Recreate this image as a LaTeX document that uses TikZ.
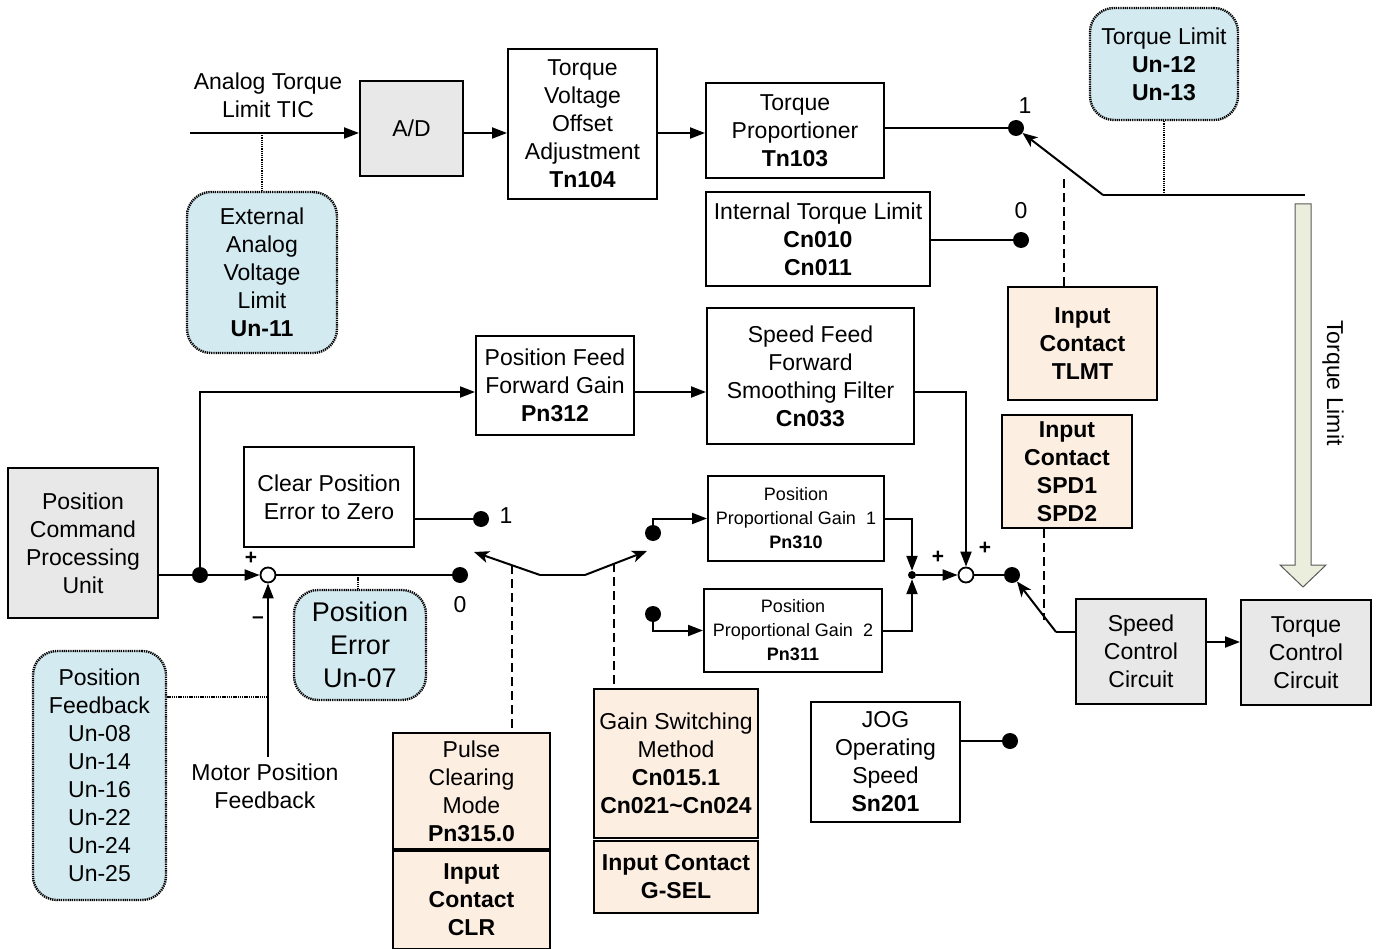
\documentclass[tikz,border=0pt]{standalone}
\usepackage{fontspec}
\setmainfont{Liberation Sans}
\usetikzlibrary{arrows.meta}
\definecolor{boxgray}{HTML}{E8E8E8}
\definecolor{monblue}{HTML}{D3EAF0}
\definecolor{peach}{HTML}{FDEEE2}
\definecolor{limgreen}{HTML}{EBEEDC}
\tikzset{
  every node/.style={font=\fontsize{23}{28}\selectfont, inner sep=0pt},
  box/.style={draw, line width=2pt, align=center},
  graybox/.style={box, fill=boxgray},
  monbox/.style={draw, line width=2.4pt, dash pattern=on 1.3pt off 0.9pt, fill=monblue, rounded corners=24pt, align=center},
  inbox/.style={box, fill=peach, font=\fontsize{23}{28}\selectfont\bfseries},
  smallbox/.style={box, font=\fontsize{18}{24}\selectfont},
  dot/.style={circle, fill=black, minimum size=16pt},
  jdotst/.style={circle, fill=black, minimum size=8pt},
  sumc/.style={circle, draw, fill=white, line width=1.8pt, minimum size=15pt},
  wire/.style={line width=2pt},
  arr/.style={wire, -{Triangle[length=15pt,width=11pt]}},
  swarr/.style={wire, -{Stealth[length=15pt,width=12pt,inset=4pt]}},
  ctrlwire/.style={line width=2.2pt, dash pattern=on 9pt off 5pt},
  monwire/.style={line width=2.4pt, dash pattern=on 1.3pt off 0.9pt},
  sign/.style={font=\fontsize{21}{24}\selectfont\bfseries},
}
\begin{document}
\begin{tikzpicture}[x=1pt,y=-1pt]
\useasboundingbox (0,0) rectangle (1378,949);

% ---------- torque limit path ----------
\node[align=center] (tic) at (268,95) {Analog Torque\\Limit TIC};
\node[graybox, minimum width=103pt, minimum height=95pt] (ad) at (411.5,128.5) {A/D};
\node[box, minimum width=149pt, minimum height=150pt] (tvoa) at (582.5,124) {Torque\\Voltage\\Offset\\Adjustment\\\textbf{Tn104}};
\node[box, minimum width=178pt, minimum height=95pt] (tp) at (795,130.5) {Torque\\Proportioner\\\textbf{Tn103}};
\node[box, minimum width=224pt, minimum height=94pt] (itl) at (818,239) {Internal Torque Limit\\\textbf{Cn010}\\\textbf{Cn011}};
\node[monbox, minimum width=150pt, minimum height=161pt] (ext) at (262,272.5) {External\\Analog\\Voltage\\Limit\\\textbf{Un-11}};
\node[monbox, minimum width=148pt, minimum height=112pt] (tl) at (1164,64) {Torque Limit\\\textbf{Un-12}\\\textbf{Un-13}};
\node[inbox, minimum width=149pt, minimum height=113pt] (tlmt) at (1082.5,343.5) {Input\\Contact\\TLMT};
\node[dot] (t1) at (1016,128) {};
\node[dot] (t0) at (1021,240) {};
\node (t1lab) at (1025,106) {1};
\node (t0lab) at (1021,211) {0};

\coordinate (ticin) at (190,133);
\coordinate (exttap) at (262,133);
\coordinate (tpiv) at (1103,195);
\coordinate (tend) at (1305,195);
\coordinate (tlmtup) at (1064,175);

\draw[arr] (ticin) -- (ticin -| ad.west);
\draw[monwire] (exttap) -- (ext.north);
\draw[arr] (ad.east |- ticin) -- (tvoa.west |- ticin);
\draw[arr] (tvoa.east |- ticin) -- (tp.west |- ticin);
\draw[wire] (tp.east |- t1) -- (t1);
\draw[wire] (itl.east |- t0) -- (t0);
\draw[swarr] (tpiv) -- (t1);
\draw[wire] (tpiv) -- (tend);
\draw[monwire] (tl.south) -- (tl.south |- tpiv);
\draw[ctrlwire] (tlmtup |- tlmt.north) -- (tlmtup);

% wide torque limit arrow
\draw[fill=limgreen, draw=black!65, line width=1pt]
  (1295,204) -- (1311,204) -- (1311,565) -- (1326,565) -- (1303,587) -- (1280,565) -- (1295,565) -- cycle;
\node[rotate=-90] (tllab) at (1333,383) {Torque Limit};

% ---------- position loop ----------
\node[graybox, minimum width=150pt, minimum height=150pt] (pcpu) at (83,543) {Position\\Command\\Processing\\Unit};
\node[box, minimum width=158pt, minimum height=99pt] (pffg) at (555,385.5) {Position Feed\\Forward Gain\\\textbf{Pn312}};
\node[box, minimum width=207pt, minimum height=136pt] (sff) at (810.5,376) {Speed Feed\\Forward\\Smoothing Filter\\\textbf{Cn033}};
\node[box, minimum width=170pt, minimum height=100pt] (cpe) at (329,497) {Clear Position\\Error to Zero};
\node[monbox, minimum width=132pt, minimum height=110pt, font=\fontsize{27}{33}\selectfont] (perr) at (360,645) {Position\\Error\\Un-07};
\node[monbox, minimum width=133pt, minimum height=249pt] (pfb) at (99.5,775.5) {Position\\Feedback\\Un-08\\Un-14\\Un-16\\Un-22\\Un-24\\Un-25};
\node[align=center] (mpf) at (265,786) {Motor Position\\Feedback};
\node[smallbox, minimum width=176pt, minimum height=85pt] (ppg1) at (796,518.5) {Position\\Proportional Gain~~1\\\textbf{Pn310}};
\node[smallbox, minimum width=178pt, minimum height=83pt] (ppg2) at (793,630.5) {Position\\Proportional Gain~~2\\\textbf{Pn311}};
\node[inbox, minimum width=130pt, minimum height=113pt] (spd) at (1067,471.5) {Input\\Contact\\SPD1\\SPD2};
\node[graybox, minimum width=130pt, minimum height=105pt] (scc) at (1141,651.5) {Speed\\Control\\Circuit};
\node[graybox, minimum width=130pt, minimum height=105pt] (tcc) at (1306,652.5) {Torque\\Control\\Circuit};
\node[box, minimum width=149pt, minimum height=120pt] (jog) at (885.5,762) {JOG\\Operating\\Speed\\\textbf{Sn201}};
\node[inbox, font=\fontsize{23}{28}\selectfont, minimum width=157pt, minimum height=116pt] (pcm) at (471.5,791) {Pulse\\Clearing\\Mode\\\textbf{Pn315.0}};
\node[inbox, minimum width=157pt, minimum height=98pt] (clr) at (471.5,900) {Input\\Contact\\CLR};
\node[inbox, font=\fontsize{23}{28}\selectfont, minimum width=164pt, minimum height=149pt] (gsm) at (676,763.5) {Gain Switching\\Method\\\textbf{Cn015.1}\\\textbf{Cn021\textasciitilde Cn024}};
\node[inbox, minimum width=164pt, minimum height=72pt] (gsel) at (676,877) {Input Contact\\G-SEL};

\node[dot] (jp) at (200,575) {};
\node[sumc] (sum1) at (268,575) {};
\node[dot] (c1) at (481,519) {};
\node[dot] (c0) at (460,575) {};
\node[dot] (g1) at (653,533) {};
\node[dot] (g2) at (653,614) {};
\node[jdotst] (jn) at (912,575) {};
\node[sumc] (sum2) at (966,575) {};
\node[dot] (sdot) at (1012,575) {};
\node[dot] (jd) at (1010,741) {};

\node (c1lab) at (506,516) {1};
\node (c0lab) at (460,605) {0};
\node[sign] (p1) at (251,558) {+};
\node[sign] (m1) at (258,620) {--};
\node[sign] (p2) at (938,557) {+};
\node[sign] (p3) at (985,548) {+};

\coordinate (ffturn) at (200,392);
\coordinate (errtap) at (358,575);
\coordinate (fbtap) at (268,697);
\coordinate (mpfup) at (268,757);
\coordinate (swa) at (540,575);
\coordinate (swb) at (585,575);
\coordinate (armL) at (474,552);
\coordinate (armR) at (647,551);
\coordinate (clrtap) at (512,565);
\coordinate (gseltap) at (614,563);
\coordinate (spiv) at (1056,632);
\coordinate (spdtap) at (1044,620);
\coordinate (sctc) at (1206,642);

\draw[wire] (pcpu.east |- jp) -- (jp);
\draw[arr] (jp) -- (sum1);
\draw[arr] (jp) -- (ffturn) -- (ffturn -| pffg.west);
\draw[arr] (pffg.east |- ffturn) -- (sff.west |- ffturn);
\draw[arr] (sff.east |- ffturn) -- (ffturn -| sum2) -- (sum2);
\draw[wire] (sum1) -- (c0);
\draw[wire] (cpe.east |- c1) -- (c1);
\draw[monwire] (errtap) -- (errtap |- perr.north);
\draw[monwire] (pfb.east |- fbtap) -- (fbtap);
\draw[arr] (mpfup) -- (sum1);

% gain and clear switches
\draw[swarr] (swa) -- (armL);
\draw[wire] (swa) -- (swb);
\draw[swarr] (swb) -- (armR);
\draw[ctrlwire] (clrtap) -- (clrtap |- pcm.north);
\draw[ctrlwire] (gseltap) -- (gseltap |- gsm.north);

\draw[arr] (g1.center) |- (ppg1.west);
\draw[arr] (g2.center) |- (ppg2.west);
\draw[arr] (ppg1.east) -| (jn);
\draw[arr] (ppg2.east) -| (jn);
\draw[arr] (jn) -- (sum2);
\draw[wire] (sum2) -- (sdot);

% speed switch
\draw[wire] (scc.west |- spiv) -- (spiv);
\draw[swarr] (spiv) -- (sdot);
\draw[ctrlwire] (spdtap |- spd.south) -- (spdtap);
\draw[arr] (sctc) -- (sctc -| tcc.west);
\draw[wire] (jog.east |- jd) -- (jd);
\end{tikzpicture}
\end{document}
